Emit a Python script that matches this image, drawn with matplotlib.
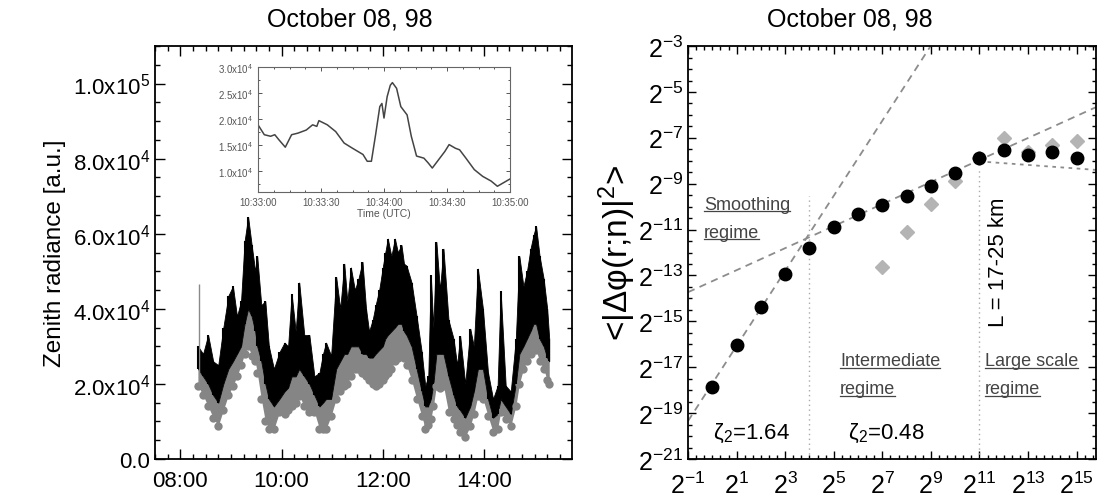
import numpy as np
import matplotlib
matplotlib.use('Agg')
import matplotlib.pyplot as plt
from matplotlib.ticker import FixedLocator, MultipleLocator, LogLocator, NullFormatter
from matplotlib.lines import Line2D

plt.rcParams['font.family'] = ['Liberation Sans', 'DejaVu Sans']
plt.rcParams['mathtext.fontset'] = 'custom'
plt.rcParams['mathtext.rm'] = 'Liberation Sans'
plt.rcParams['mathtext.it'] = 'Liberation Sans:italic'

# ---- zenith radiance time series (envelope, units 1e3 a.u.)
t_hours = [8.35, 8.45, 8.55, 8.65, 8.75, 8.85, 8.95, 9.04, 9.12, 9.2, 9.27, 9.34, 9.41, 9.48,
           9.52, 9.6, 9.68, 9.75, 9.85, 9.96, 10.06, 10.13, 10.2, 10.28, 10.35, 10.45, 10.55,
           10.65, 10.75, 10.82, 10.88, 10.98, 11.08, 11.16, 11.24, 11.3, 11.37, 11.45, 11.52,
           11.6, 11.67, 11.73, 11.8, 11.86, 11.93, 12.0, 12.05, 12.1, 12.17, 12.24, 12.3, 12.37,
           12.42, 12.47, 12.57, 12.67, 12.77, 12.84, 12.9, 12.95, 13.0, 13.06, 13.13, 13.2, 13.3,
           13.4, 13.47, 13.53, 13.63, 13.73, 13.8, 13.88, 13.98, 14.08, 14.18, 14.27, 14.33,
           14.43, 14.53, 14.63, 14.7, 14.78, 14.85, 14.92, 14.98, 15.03, 15.1, 15.18, 15.25, 15.29]
black_hi = [30, 28, 33, 26, 25, 35, 43.5, 46, 38, 42, 58, 64.5, 57, 50,
            54, 41, 42, 30, 24, 28.5, 31, 30, 44, 34, 47, 33, 33,
            22, 23, 28, 31, 27.5, 48.5, 40, 52, 42, 51, 45, 48,
            52.5, 40, 34, 37, 41, 45, 51, 55, 58.7, 54, 58.7, 55, 57,
            52, 51.5, 47, 38, 28.5, 19.5, 22, 49, 35, 57.8, 45, 56, 37,
            32, 25, 32.8, 20, 34.7, 30, 50.7, 40, 23, 16, 19.5, 44.8,
            19.5, 18, 32, 54, 46, 50, 56, 59.7, 62, 54, 48, 40, 32]
black_lo = [24, 22, 20, 17, 15, 20, 24, 26, 28, 30, 36, 40, 38, 34,
            30, 26, 20, 16, 14, 16, 18, 19, 22, 22, 24, 22, 20,
            17, 14, 15, 16, 16, 24, 26, 28, 28, 30, 30, 30,
            28, 28, 27, 27, 28, 29, 30, 32, 33, 34, 35, 36, 36,
            34, 33, 30, 24, 18, 14, 14, 16, 20, 28, 28, 28, 22,
            17, 14, 13, 11, 14, 18, 24, 24, 16, 11, 12, 16,
            14, 12, 20, 28, 30, 32, 34, 36, 36, 32, 30, 27, 26]
gray_lo = [19.5, 17, 14, 11, 8.8, 13, 17, 19.5, 22, 25, 28, 30, 27.5, 26,
           23, 16, 10, 8, 8, 12.5, 12, 13, 14, 15, 16.8, 14, 12.5,
           12.5, 8, 8, 8, 11.5, 16, 18, 19.5, 20, 22, 24, 24,
           23, 22, 21, 20, 19.5, 20, 21, 22, 23, 24, 26, 27, 28.5,
           27, 25, 21, 16, 11.5, 8, 9, 10.7, 14, 19.5, 19, 19.5, 12.5,
           10.7, 9, 7.2, 5.9, 8.8, 12, 16.8, 16, 11.5, 7.2, 8, 12.5,
           10.7, 8.8, 14, 20, 24, 26, 28, 30, 29, 26, 24, 21, 20]
spike_t = [8.36]
spike_top = [46.7]

main_yticks = [0, 2e4, 4e4, 6e4, 8e4, 1e5]
main_ylabels = ['0.0', '2.0x10$^4$', '4.0x10$^4$', '6.0x10$^4$', '8.0x10$^4$', '1.0x10$^5$']
main_xticks = [8, 10, 12, 14]
main_xlabels = ['08:00', '10:00', '12:00', '14:00']

# ---- inset: 10:33:00 - 10:35:00 (seconds after 10:33:00, units 1e4 a.u.)
inset_s = [0, 3, 6, 8, 10, 13, 16, 19, 23, 26, 28, 29, 33, 37, 41, 45, 50, 52, 54, 56, 58, 59,
           60, 61.5, 63, 64, 66, 68, 71, 73, 75.5, 79, 81, 83, 86, 89, 91, 94, 96, 99, 103, 107,
           111, 114, 117, 120]
inset_val = [1.89, 1.70, 1.67, 1.70, 1.60, 1.46, 1.70, 1.73, 1.79, 1.89, 1.86, 1.97, 1.89, 1.76,
             1.54, 1.44, 1.32, 1.19, 1.19, 1.70, 2.24, 2.30, 2.02, 2.43, 2.65, 2.70, 2.59, 2.24,
             2.08, 1.67, 1.29, 1.25, 1.16, 1.06, 1.22, 1.38, 1.51, 1.44, 1.41, 1.25, 1.03, 0.90,
             0.81, 0.71, 0.78, 0.85]
inset_xticks = [0, 30, 60, 90, 120]
inset_xlabels = ['10:33:00', '10:33:30', '10:34:00', '10:34:30', '10:35:00']
inset_yticks = [1.0e4, 1.5e4, 2.0e4, 2.5e4, 3.0e4]
inset_ylabels = ['1.0x10$^4$', '1.5x10$^4$', '2.0x10$^4$', '2.5x10$^4$', '3.0x10$^4$']

# ---- structure function (log2 values)
scale_exp = list(range(0, 16))
black_sf = [-17.87, -16.03, -14.36, -12.94, -11.8, -10.9, -10.32, -9.91, -9.55, -9.09,
            -8.55, -7.86, -7.55, -7.77, -7.64, -7.86]
gray_exp = [7, 8, 9, 10, 11, 12, 13, 14, 15]
gray_sf = [-12.62, -11.09, -9.88, -8.9, -7.9, -7.0, -7.6, -7.3, -7.15]
fit_slopes = [1.636, 0.48]
fit_intercepts = [-17.71, -13.25]
fit_ranges = [(-1, 9.0), (-1, 15.8)]
large_scale = ([11, 15.8], [-8.03, -8.4])
bounds_exp = [4, 11]
bounds_top = [-9.52, -8.36]

fig = plt.figure(figsize=(10.98, 5.02), dpi=100)

# ================= left panel
ax = fig.add_axes([155 / 1098, 42 / 502, 417 / 1098, 413 / 502])
t = np.array(t_hours)
glo = np.array(gray_lo) * 1e3
blo = np.array(black_lo) * 1e3
bhi = np.array(black_hi) * 1e3
ax.fill_between(t, glo, blo, color='#858585', lw=0)
ax.plot(t, glo, 'o', color='#858585', ms=6, mew=0)
ax.vlines(spike_t, glo[:1], np.array(spike_top) * 1e3, color='#8a8a8a', lw=1)
ax.fill_between(t, blo, bhi, color='black', lw=0.6, edgecolor='black')
ax.vlines(t, blo, bhi, color='black', lw=1.5)
ax.set_xlim(7.5, 15.74)
ax.set_ylim(0, 1.1e5)
ax.yaxis.set_major_locator(FixedLocator(main_yticks))
ax.set_yticklabels(main_ylabels)
ax.yaxis.set_minor_locator(MultipleLocator(5e3))
ax.xaxis.set_major_locator(FixedLocator(main_xticks))
ax.set_xticklabels(main_xlabels)
ax.xaxis.set_minor_locator(MultipleLocator(0.25))
ax.tick_params(which='both', direction='in', top=True, right=True, labelsize=16, width=1)
ax.tick_params(which='major', length=7)
ax.tick_params(which='minor', length=3.5)
ax.tick_params(axis='x', pad=8)
for s in ax.spines.values():
    s.set_linewidth(1.3)
ax.set_ylabel('Zenith radiance [a.u.]', fontsize=17.5, labelpad=5)
fig.text(350 / 1098, 1 - 20 / 502, 'October 08, 98', fontsize=18, ha='center', va='center')

# inset
axi = fig.add_axes([258 / 1098, 309 / 502, 252 / 1098, 125 / 502])
axi.plot(inset_s, np.array(inset_val) * 1e4, color='#444444', lw=1.1)
axi.set_xlim(0, 120)
axi.set_ylim(0.6e4, 3.0e4)
axi.xaxis.set_major_locator(FixedLocator(inset_xticks))
axi.set_xticklabels(inset_xlabels)
axi.yaxis.set_major_locator(FixedLocator(inset_yticks))
axi.set_yticklabels(inset_ylabels)
axi.xaxis.set_minor_locator(MultipleLocator(7.5))
axi.yaxis.set_minor_locator(MultipleLocator(2.5e3))
axi.tick_params(which='both', direction='in', top=True, right=True, labelsize=7,
                colors='#555555', width=0.7)
axi.tick_params(which='major', length=3)
axi.tick_params(which='minor', length=1.5)
for s in axi.spines.values():
    s.set_color('#666666')
    s.set_linewidth(0.8)
axi.set_xlabel('Time (UTC)', fontsize=7.5, color='#555555', labelpad=1)

# ================= right panel
ax2 = fig.add_axes([688 / 1098, 42 / 502, 408 / 1098, 413 / 502])
ax2.set_xscale('log', base=2)
ax2.set_yscale('log', base=2)
x_black = 2.0 ** np.array(scale_exp)
x_gray = 2.0 ** np.array(gray_exp)

for sl, ic, (a, b) in zip(fit_slopes, fit_intercepts, fit_ranges):
    xe = np.array([a, b])
    ax2.plot(2.0 ** xe, 2.0 ** (ic + sl * xe), ls=(0, (4, 3)), color='#8c8c8c', lw=1.3)
ax2.plot(2.0 ** np.array(large_scale[0]), 2.0 ** np.array(large_scale[1]), ls=(0, (2, 2.5)),
         color='#8c8c8c', lw=1.3)
for be, bt in zip(bounds_exp, bounds_top):
    ax2.plot([2.0 ** be, 2.0 ** be], [2.0 ** -21, 2.0 ** bt], ls=(0, (1, 2.5)), color='#aaaaaa', lw=1)

ax2.plot(x_gray, 2.0 ** np.array(gray_sf), 'D', color='#b4b4b4', ms=7, mec='#b4b4b4')
ax2.plot(x_black, 2.0 ** np.array(black_sf), 'o', color='black', ms=9)

ax2.set_xlim(2.0 ** -1, 2.0 ** 15.8)
ax2.set_ylim(2.0 ** -21, 2.0 ** -3)
xt = np.arange(-1, 16, 2)
yt = np.arange(-21, -2, 2)
ax2.xaxis.set_major_locator(FixedLocator(2.0 ** xt))
ax2.set_xticklabels(['2$^{%d}$' % e for e in xt])
ax2.yaxis.set_major_locator(FixedLocator(2.0 ** yt))
ax2.set_yticklabels(['2$^{%d}$' % e for e in yt])
ax2.xaxis.set_minor_locator(LogLocator(base=2.0, subs=(1.0, 1.26, 1.59), numticks=100))
ax2.yaxis.set_minor_locator(LogLocator(base=2.0, subs=(1.0, 1.41), numticks=100))
ax2.xaxis.set_minor_formatter(NullFormatter())
ax2.yaxis.set_minor_formatter(NullFormatter())
ax2.tick_params(which='both', direction='in', top=True, right=True, labelsize=18, width=1)
ax2.tick_params(which='major', length=6)
ax2.tick_params(which='minor', length=3)
ax2.tick_params(axis='x', pad=9)
for s in ax2.spines.values():
    s.set_linewidth(1.3)
ax2.set_ylabel('<|Δφ(r;n)|$^2$>', fontsize=24, labelpad=0)
fig.text(850 / 1098, 1 - 20 / 502, 'October 08, 98', fontsize=18, ha='center', va='center')

# regime labels (underlined)
reg_col = '#444444'
labels = [('Smoothing', 704, 205), ('regime', 704, 233),
          ('Intermediate', 840, 362), ('regime', 840, 390),
          ('Large scale', 985, 362), ('regime', 985, 390)]
txts = []
for s, xp, yp in labels:
    txts.append(fig.text(xp / 1098, 1 - yp / 502, s, fontsize=13, color=reg_col,
                         ha='left', va='center'))
fig.text(713 / 1098, 1 - 433 / 502, 'ζ$_2$=1.64', fontsize=16, ha='left', va='center')
fig.text(848 / 1098, 1 - 433 / 502, 'ζ$_2$=0.48', fontsize=16, ha='left', va='center')
fig.text(998 / 1098, 1 - 262 / 502, 'L = 17-25 km', fontsize=16, rotation=90,
         ha='center', va='center')

fig.canvas.draw()
r = fig.canvas.get_renderer()
for tx in txts:
    bb = tx.get_window_extent(r)
    yline = (bb.y0 + 2) / fig.bbox.height
    fig.add_artist(Line2D([bb.x0 / fig.bbox.width, bb.x1 / fig.bbox.width], [yline, yline],
                          color=reg_col, lw=0.9))

fig.savefig('out.png', dpi=100)
